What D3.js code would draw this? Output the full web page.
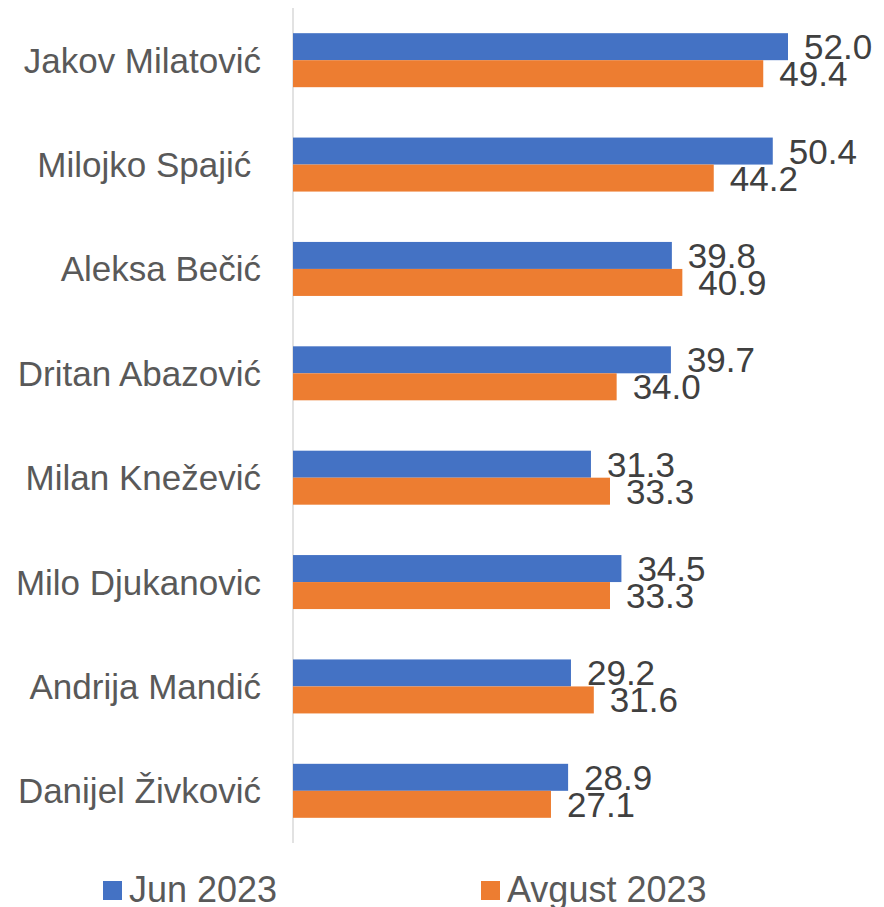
<!DOCTYPE html>
<html lang="sr">
<head>
    <meta charset="UTF-8">
    <title>Jun / Avgust 2023</title>
    <script src="https://d3js.org/d3.v7.min.js"></script>
    <style>
        body {
            margin: 0;
            padding: 0;
            background-color: #fff;
            font-family: "Liberation Sans", Arial, sans-serif;
        }

        .cat-label {
            font-size: 35px;
            fill: #595959;
            text-anchor: end;
            white-space: pre;
        }

        .value-label {
            font-size: 35px;
            fill: #404040;
        }

        .legend-label {
            font-size: 36px;
            fill: #595959;
        }
    </style>
</head>
<body>
    <svg id="chart" width="884" height="907"></svg>
    <script>
        // Data
        const candidates = [
            "Jakov Milatović",
            "Milojko Spajić ",
            "Aleksa Bečić",
            "Dritan Abazović",
            "Milan Knežević",
            "Milo Djukanovic",
            "Andrija Mandić",
            "Danijel Živković"
        ];
        const seriesNames = ["Jun 2023", "Avgust 2023"];
        const junValues = [52.0, 50.4, 39.8, 39.7, 31.3, 34.5, 29.2, 28.9];
        const avgustValues = [49.4, 44.2, 40.9, 34.0, 33.3, 33.3, 31.6, 27.1];
        const colors = ["#4472C4", "#ED7D31"];

        const svg = d3.select("#chart");

        const axisX = 293;
        const plotTop = 8;
        const plotBottom = 843;

        // x scale: 52 units land at x=788
        const x = d3.scaleLinear()
            .domain([0, 52])
            .range([axisX, 788]);

        // band for each candidate, bars take 54px of each 104px step
        const y = d3.scaleBand()
            .domain(candidates)
            .range([plotTop, plotBottom])
            .paddingInner(0.4826)
            .paddingOuter(0.2413);

        const ySub = d3.scaleBand()
            .domain(seriesNames)
            .range([0, y.bandwidth()]);

        const rows = candidates.map((name, i) => ({
            name: name,
            values: [junValues[i], avgustValues[i]]
        }));

        // vertical axis line
        svg.append("line")
            .attr("x1", axisX)
            .attr("x2", axisX)
            .attr("y1", plotTop)
            .attr("y2", plotBottom)
            .attr("stroke", "#d9d9d9")
            .attr("stroke-width", 1.5);

        const groups = svg.selectAll("g.row")
            .data(rows)
            .join("g")
            .attr("class", "row")
            .attr("transform", d => `translate(0,${y(d.name)})`);

        groups.selectAll("rect")
            .data(d => d.values.map((v, j) => ({ series: seriesNames[j], value: v, color: colors[j] })))
            .join("rect")
            .attr("x", axisX)
            .attr("y", d => ySub(d.series))
            .attr("width", d => x(d.value) - axisX)
            .attr("height", ySub.bandwidth())
            .attr("fill", d => d.color);

        groups.selectAll("text.value-label")
            .data(d => d.values.map((v, j) => ({ series: seriesNames[j], value: v })))
            .join("text")
            .attr("class", "value-label")
            .attr("x", d => x(d.value) + 16)
            .attr("y", d => ySub(d.series) + ySub.bandwidth() / 2 + 12.5)
            .text(d => d.value.toFixed(1));

        // category labels
        svg.selectAll("text.cat-label")
            .data(candidates)
            .join("text")
            .attr("class", "cat-label")
            .attr("x", 261)
            .attr("y", d => y(d) + y.bandwidth() / 2 + 12.5)
            .text(d => d);

        // legend
        const legendX = [103, 481];
        const legend = svg.selectAll("g.legend")
            .data(seriesNames)
            .join("g")
            .attr("class", "legend")
            .attr("transform", (d, i) => `translate(${legendX[i]},881)`);

        legend.append("rect")
            .attr("width", 19)
            .attr("height", 19)
            .attr("fill", (d, i) => colors[i]);

        legend.append("text")
            .attr("class", "legend-label")
            .attr("x", 26)
            .attr("y", 21)
            .text(d => d);
    </script>
</body>
</html>
